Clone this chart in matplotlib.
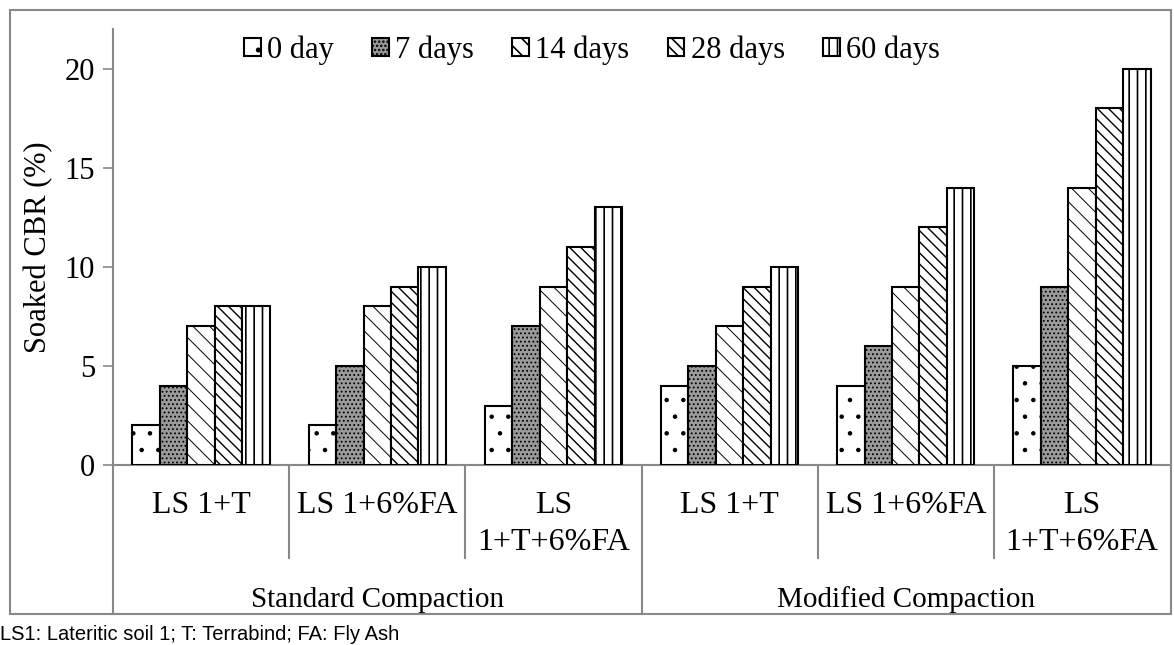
import matplotlib
matplotlib.use("Agg")
import matplotlib.pyplot as plt
import numpy as np
from matplotlib.patches import Rectangle
from matplotlib.lines import Line2D

categories = ["LS 1+T", "LS 1+6%FA", "LS\n1+T+6%FA", "LS 1+T", "LS 1+6%FA", "LS\n1+T+6%FA"]
groups = ["Standard Compaction", "Modified Compaction"]
series_names = ["0 day", "7 days", "14 days", "28 days", "60 days"]
day0 = [2, 2, 3, 4, 4, 5]
day7 = [4, 5, 7, 5, 6, 9]
day14 = [7, 8, 9, 7, 9, 14]
day28 = [8, 9, 11, 9, 12, 18]
day60 = [8, 10, 13, 10, 14, 20]
series = [day0, day7, day14, day28, day60]
footnote = "LS1: Lateritic soil 1; T: Terrabind; FA: Fly Ash"

plt.rcParams['font.family'] = ['Liberation Serif', 'DejaVu Serif']

styles = [
    dict(facecolor='white', hatch='.'),
    dict(facecolor='#9a9a9a', hatch='....'),
    dict(facecolor='white', hatch='\\\\'),
    dict(facecolor='white', hatch='\\\\\\'),
    dict(facecolor='white', hatch='||'),
]
hatch_lw = [0.8, 0.8, 0.7, 1.0, 1.2]

fig = plt.figure(figsize=(11.74, 6.45), dpi=100)
W, H = 1174, 645
ax = fig.add_axes([113 / W, (H - 465) / H, 1057 / W, 436 / H])

x = np.arange(len(categories))
bw = 0.156
for i, (vals, st) in enumerate(zip(series, styles)):
    plt.rcParams['hatch.linewidth'] = hatch_lw[i]
    ax.bar(x + (i - 2) * bw, vals, bw, edgecolor='black', linewidth=1.5,
           label=series_names[i], zorder=3, **st)

ax.set_xlim(-0.5, 5.5)
ax.set_ylim(0, 22)
ax.set_yticks([0, 5, 10, 15, 20])
ax.tick_params(axis='y', labelsize=22, color='#898989', length=7, width=1.2, pad=6)
ax.set_xticks([])
for s in ['top', 'right']:
    ax.spines[s].set_visible(False)
for s in ['left', 'bottom']:
    ax.spines[s].set_color('#898989')
    ax.spines[s].set_linewidth(1.5)

ax.set_ylabel("Soaked CBR (%)", fontsize=22)
ax.yaxis.set_label_coords(-60 / 1057, 0.5)

# multi-level category axis
trans = ax.get_xaxis_transform()
def ay(py):
    return -(py - 465) / 436

for i, c in enumerate(categories):
    lines = c.split("\n")
    if len(lines) == 1:
        ax.text(x[i], ay(513), c, ha='center', va='baseline', fontsize=23, transform=trans)
    else:
        ax.text(x[i], ay(513), lines[0], ha='center', va='baseline', fontsize=23, transform=trans)
        ax.text(x[i], ay(550), lines[1], ha='center', va='baseline', fontsize=23, transform=trans)

for b in [0.5, 1.5, 3.5, 4.5]:
    ax.add_line(Line2D([b, b], [0, ay(558)], color='#898989', lw=1.5, transform=trans, clip_on=False))
for b in [-0.5, 2.5]:
    ax.add_line(Line2D([b, b], [0, ay(614)], color='#898989', lw=1.5, transform=trans, clip_on=False))

ax.text(1, ay(607), groups[0], ha='center', va='baseline', fontsize=21, transform=trans)
ax.text(4, ay(607), groups[1], ha='center', va='baseline', fontsize=21, transform=trans)

leg = ax.legend(loc='center', bbox_to_anchor=((592 - 113) / 1057, (465 - 50) / 436), ncol=5,
                frameon=False, fontsize=22, handlelength=0.55, handleheight=0.55,
                handletextpad=0.2, columnspacing=1.25, borderpad=0)

# outer frame
fig.patches.append(Rectangle((10 / W, (H - 614) / H), 1161 / W, 604 / H, fill=False,
                             edgecolor='#898989', linewidth=1.5, transform=fig.transFigure))

fig.text(0 / W, (H - 640) / H, footnote, ha='left', va='baseline', fontsize=14.5,
         family=['Liberation Sans', 'DejaVu Sans'])

fig.savefig("out.png", dpi=100)
